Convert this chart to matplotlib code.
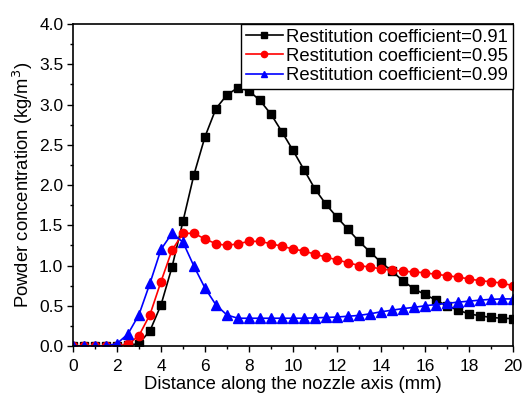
import numpy as np
import matplotlib
matplotlib.use("Agg")
import matplotlib.pyplot as plt
from matplotlib.ticker import MultipleLocator, FormatStrFormatter

plt.rcParams['font.family'] = ['Liberation Sans', 'DejaVu Sans']

# distance along nozzle axis, 0.5 mm steps
x = np.arange(0, 20.01, 0.5)

# restitution coefficient = 0.91
c091 = [0, 0, 0, 0, 0, 0.01, 0.03, 0.19, 0.51, 0.98, 1.55, 2.13, 2.60, 2.95,
        3.12, 3.21, 3.17, 3.05, 2.88, 2.66, 2.43, 2.19, 1.95, 1.76, 1.60, 1.45,
        1.30, 1.17, 1.04, 0.93, 0.81, 0.71, 0.64, 0.57, 0.50, 0.445, 0.40,
        0.375, 0.355, 0.345, 0.34]
# restitution coefficient = 0.95
c095 = [0, 0, 0, 0, 0, 0.02, 0.13, 0.39, 0.80, 1.19, 1.40, 1.40, 1.33, 1.27,
        1.25, 1.27, 1.30, 1.30, 1.27, 1.24, 1.205, 1.18, 1.14, 1.105, 1.07,
        1.035, 1.00, 0.98, 0.96, 0.94, 0.93, 0.92, 0.91, 0.89, 0.875, 0.855,
        0.835, 0.81, 0.80, 0.78, 0.75]
# restitution coefficient = 0.99
c099 = [0, 0, 0, 0, 0.03, 0.15, 0.39, 0.78, 1.20, 1.40, 1.29, 0.99, 0.72, 0.51,
        0.385, 0.345, 0.345, 0.345, 0.345, 0.345, 0.345, 0.345, 0.35, 0.355,
        0.36, 0.37, 0.38, 0.40, 0.425, 0.445, 0.465, 0.48, 0.50, 0.515, 0.53,
        0.545, 0.557, 0.57, 0.58, 0.585, 0.585]

labels = ['Restitution coefficient=0.91', 'Restitution coefficient=0.95',
          'Restitution coefficient=0.99']

fig = plt.figure(figsize=(5.27, 3.99), dpi=100)
ax = fig.add_axes([0.1385, 0.1328, 0.8349, 0.807])

ax.plot(x, c091, color='black', marker='s', ms=5.5, lw=1.2, label=labels[0])
ax.plot(x, c095, color='red', marker='o', ms=6, lw=1.2, label=labels[1])
ax.plot(x, c099, color='blue', marker='^', ms=6.5, lw=1.2, label=labels[2])

ax.set_xlim(0, 20)
ax.set_ylim(0, 4.0)
ax.xaxis.set_major_locator(MultipleLocator(2))
ax.xaxis.set_minor_locator(MultipleLocator(1))
ax.yaxis.set_major_locator(MultipleLocator(0.5))
ax.yaxis.set_minor_locator(MultipleLocator(0.25))
ax.yaxis.set_major_formatter(FormatStrFormatter('%.1f'))
ax.tick_params(which='both', direction='out', labelsize=12.5, top=False, right=False)
ax.tick_params(which='major', length=4, width=1, pad=3)
ax.tick_params(axis='x', which='major', pad=5)
ax.tick_params(which='minor', length=2.5, width=1)
for s in ax.spines.values():
    s.set_linewidth(1.2)

ax.set_xlabel('Distance along the nozzle axis (mm)', fontsize=13.3, labelpad=2)
ax.set_ylabel('Powder concentration (kg/m$^3$)', fontsize=13.3, labelpad=3)

leg = ax.legend(loc='upper right', borderaxespad=0, fontsize=13.3, handlelength=2.0,
                handletextpad=0.2, labelspacing=0.12, borderpad=0.25, fancybox=False,
                edgecolor='black', markerscale=0.75, framealpha=1)
leg.get_frame().set_linewidth(1.0)

fig.savefig('out.png', dpi=100)
